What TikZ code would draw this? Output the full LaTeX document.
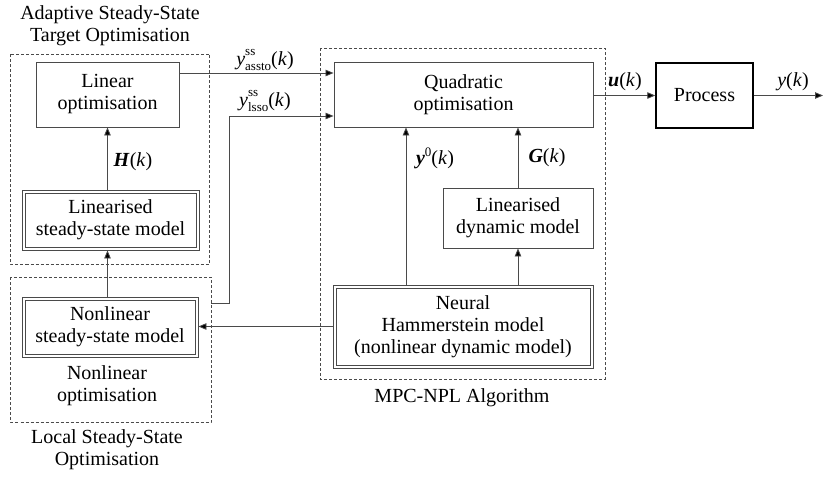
\documentclass[tikz,border=0pt]{standalone}
\usepackage{fontspec}
\setmainfont{Liberation Serif}
\usetikzlibrary{arrows.meta}
\definecolor{ln}{HTML}{4A4A4A}
\definecolor{tx}{HTML}{000000}
\newcommand{\sssub}[2]{\textit{y}\makebox[0pt][l]{\raisebox{1.0ex}{\fontsize{13}{13}\selectfont #1}}\raisebox{-0.55ex}{\fontsize{13}{13}\selectfont #2}(\textit{k})}
\begin{document}
\begin{tikzpicture}[x=1pt,y=-1pt,
  every node/.style={font=\fontsize{20}{22}\selectfont, text=tx, inner sep=0pt, align=center},
  blk/.style={draw=ln, line width=0.9pt, rectangle},
  inner/.style={draw=ln, line width=0.9pt},
  grp/.style={draw=ln, line width=0.7pt, dash pattern=on 3pt off 2pt},
  arr/.style={draw=ln, line width=0.8pt, -{Triangle[length=8pt,width=6.5pt,fill=black]}}
]
\useasboundingbox (0,0) rectangle (823,477);
% group boxes
\draw[grp] (10.5,54) rectangle (209.5,264);
\draw[grp] (10.5,277) rectangle (211,422);
\draw[grp] (320,48) rectangle (605,379);
% group titles
\node (t1) at (110,26) {Adaptive Steady-State\\Target Optimisation};
\node (t2) at (107,450) {Local Steady-State\\Optimisation};
\node (t3) at (462,398) {MPC-NPL Algorithm};
\node (t4) at (107,386) {Nonlinear\\optimisation};
% blocks
\node[blk, minimum width=143pt, minimum height=65pt] (linopt) at (107.5,94.5) {Linear\\optimisation};
\node[blk, minimum width=177pt, minimum height=60pt] (linss) at (110.5,220) {Linearised\\steady-state model};
\draw[inner] ([shift={(3.5pt,-3.5pt)}]linss.north west) rectangle ([shift={(-3.5pt,3.5pt)}]linss.south east);
\node[blk, minimum width=176pt, minimum height=60pt] (nlss) at (110,327) {Nonlinear\\steady-state model};
\draw[inner] ([shift={(3.5pt,-3.5pt)}]nlss.north west) rectangle ([shift={(-3.5pt,3.5pt)}]nlss.south east);
\node[blk, minimum width=259pt, minimum height=65pt] (quad) at (463.5,94.5) {Quadratic\\optimisation};
\node[blk, minimum width=150pt, minimum height=60pt] (lindyn) at (518,218) {Linearised\\dynamic model};
\node[blk, minimum width=260pt, minimum height=83pt] (neural) at (463,326.5) {Neural\\Hammerstein model\\(nonlinear dynamic model)};
\draw[inner] ([shift={(3.5pt,-3.5pt)}]neural.north west) rectangle ([shift={(-3.5pt,3.5pt)}]neural.south east);
\node[draw=black, line width=1.4pt, minimum width=97pt, minimum height=65pt] (proc) at (704.5,95.5) {Process};
\coordinate (lssoout) at (211,303);
\coordinate (bend1) at (229,303);
\coordinate (bend2) at (229,116);
\coordinate (yout) at (823,95.5);
% connectors
\draw[arr] (linss.north -| linopt.south) -- (linopt.south);
\draw[arr] (nlss.north -| linopt.south) -- (linss.south -| linopt.south);
\draw[arr] ([yshift=21.5pt]linopt.east) -- ([yshift=21.5pt]linopt.east -| quad.west);
\draw[arr] (lssoout) -- (bend1) -- (bend2) -- (bend2 -| quad.west);
\draw[arr] (neural.north -| 406,0) -- (quad.south -| 406,0);
\draw[arr] (lindyn.north) -- (lindyn.north |- quad.south);
\draw[arr] (neural.north -| lindyn.south) -- (lindyn.south);
\draw[arr] (neural.west) -- (neural.west -| nlss.east);
\draw[arr] (quad.east |- proc.west) -- (proc.west);
\draw[arr] (proc.east) -- (yout);
% labels
\node (lH) at (133,162) {\textbf{\textit{H}}(\textit{k})};
\node (la) at (265,60) {\sssub{ss}{assto}};
\node (ll) at (265,101) {\sssub{ss}{lsso}};
\node (ly0) at (435,158) {\textbf{\textit{y}}\raisebox{0.9ex}{\fontsize{13}{13}\selectfont 0}(\textit{k})};
\node (lG) at (547,158) {\textbf{\textit{G}}(\textit{k})};
\node (lu) at (625,82) {\textbf{\textit{u}}(\textit{k})};
\node (ly) at (793,82) {\textit{y}(\textit{k})};
\end{tikzpicture}
\end{document}
